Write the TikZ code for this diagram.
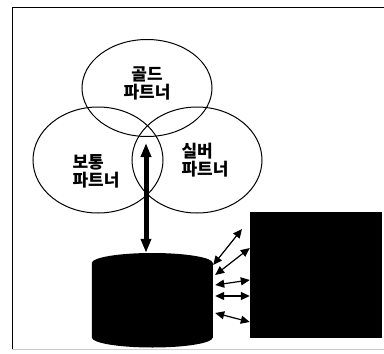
\documentclass[tikz,border=0pt]{standalone}
\usepackage{fontspec}
\newfontfamily\kr{Noto Sans CJK KR}
\usetikzlibrary{shapes.geometric,arrows.meta}
\begin{document}
\begin{tikzpicture}[x=1pt,y=-1pt,
  ring/.style={draw,ellipse,line width=1pt,minimum width=130pt,inner sep=0pt},
  tag/.style={font=\kr\bfseries\fontsize{17}{18}\selectfont,align=left,inner sep=0pt},
  link/.style={line width=1.2pt,{Triangle[length=9pt,width=8pt]}-{Triangle[length=9pt,width=8pt]}}]
\useasboundingbox (0,0) rectangle (384,354);
\draw[line width=.8pt] (12,350) -- (12,7) -- (384,7);
\draw[black!20,line width=.8pt] (12,349) -- (384,349);
% partner circles
\node[ring,minimum height=97pt] (gold) at (147,88) {};
\node[ring,minimum height=106pt] (basic) at (98,160) {};
\node[ring,minimum height=106pt] (silver) at (197,160) {};
\node[tag,align=center] (goldtxt) at (147,83) {골드\\파트너};
\node[tag] (basictxt) at (96,171) {보통\\파트너};
\node[tag] (silvertxt) at (205,160) {실버\\파트너};
% database and server
\node[minimum width=121pt,minimum height=95pt,inner sep=0pt] (db) at (152.5,300.5) {};
\fill (db.west) ++(0,-37.5) -- ++(0,74.5) arc[x radius=60.5pt,y radius=10pt,start angle=180,end angle=360]
  -- ++(0,-74.5) arc[x radius=60.5pt,y radius=10pt,start angle=0,end angle=180] -- cycle;
\node[fill=black,minimum width=132pt,minimum height=126pt,inner sep=0pt] (srv) at (316,275) {};
\coordinate (lens) at (146,143);
\draw[line width=5pt,{Triangle[length=14pt,width=10pt]}-{Triangle[length=14pt,width=10pt]}] (lens) -- (lens |- db.north);
% small links
\coordinate (tip) at (242,229);
\draw[link] ([shift={(0,-35.5)}]db.east) -- (tip);
\foreach \a/\b in {-25.5/-27,-15.5/5,-4.5/21,12.5/47}{
  \draw[link] ([shift={(2,\a)}]db.east) -- ([shift={(0,\b)}]srv.west);
}
\end{tikzpicture}
\end{document}
